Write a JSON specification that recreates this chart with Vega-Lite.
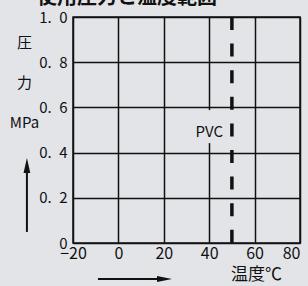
{
  "$schema": "https://vega.github.io/schema/vega-lite/v6.json",
  "width": 227,
  "height": 226,
  "autosize": {"type": "none"},
  "padding": {"left": 73, "top": 17, "right": 8, "bottom": 43},
  "background": "#e3e4e8",
  "config": {
    "font": "Noto Sans CJK JP, sans-serif",
    "view": {"stroke": "#111111", "strokeWidth": 1.5}
  },
  "data": {"values": [{"material": "PVC", "maxTemp": 50, "pMin": 0, "pMax": 1.0}]},
  "layer": [
    {
      "mark": {"type": "rule", "color": "#111111", "strokeWidth": 3.5, "strokeDash": [13, 13.6], "strokeCap": "butt"},
      "encoding": {
        "x": {
          "field": "maxTemp", "type": "quantitative",
          "scale": {"domain": [-20, 80], "nice": false, "zero": false},
          "axis": {
            "values": [-20, 0, 20, 40, 60, 80],
            "grid": true, "gridColor": "#111111", "gridWidth": 1.5, "gridOpacity": 1,
            "domain": false, "ticks": false,
            "labelFontSize": 16, "labelPadding": 2, "labelColor": "#111111",
            "labelAlign": {"condition": {"test": "datum.value == 80", "value": "right"}, "value": "center"},
            "title": "温度℃", "titleX": 183, "titleY": 31, "titleAlign": "center", "titleBaseline": "middle",
            "titleFontSize": 17, "titleFontWeight": "normal", "titleColor": "#111111"
          }
        },
        "y": {
          "field": "pMax", "type": "quantitative",
          "scale": {"domain": [0, 1], "nice": false},
          "axis": {
            "values": [0, 0.2, 0.4, 0.6, 0.8, 1.0],
            "labelExpr": "datum.value == 0 ? '0' : replace(format(datum.value, '.1f'), '.', '.\u2002')",
            "grid": true, "gridColor": "#111111", "gridWidth": 1.5, "gridOpacity": 1,
            "domain": false, "ticks": false,
            "labelFontSize": 15, "labelPadding": 6, "labelColor": "#111111",
            "title": ["圧", "力", "MPa"], "titleAngle": 0, "titleX": -49, "titleY": 25,
            "titleAlign": "center", "titleBaseline": "middle", "titleLineHeight": 40,
            "titleFontSize": 15, "titleFontWeight": "normal", "titleColor": "#111111"
          }
        },
        "y2": {"field": "pMin"}
      }
    },
    {
      "mark": {"type": "rect", "color": "#e3e4e8"},
      "encoding": {
        "x": {"datum": 38.5, "scale": {"domain": [-20, 80], "nice": false, "zero": false}},
        "x2": {"datum": 41.5},
        "y": {"datum": 0.442, "scale": {"domain": [0, 1], "nice": false}},
        "y2": {"datum": 0.588}
      }
    },
    {
      "mark": {"type": "text", "fontSize": 15, "color": "#111111", "align": "center", "baseline": "middle"},
      "encoding": {
        "x": {"datum": 40, "scale": {"domain": [-20, 80], "nice": false, "zero": false}},
        "y": {"datum": 0.49, "scale": {"domain": [0, 1], "nice": false}},
        "text": {"field": "material"}
      }
    },
    {
      "mark": {"type": "text", "fontSize": 20, "fontWeight": "bold", "color": "#111111", "align": "left", "baseline": "alphabetic"},
      "encoding": {
        "x": {"datum": -35.9, "scale": {"domain": [-20, 80], "nice": false, "zero": false}},
        "y": {"datum": 1.059, "scale": {"domain": [0, 1], "nice": false}},
        "text": {"datum": "使用圧力と温度範囲"}
      }
    },
    {
      "mark": {"type": "rule", "color": "#111111", "strokeWidth": 2},
      "encoding": {
        "x": {"datum": -40.3, "scale": {"domain": [-20, 80], "nice": false, "zero": false}},
        "y": {"datum": 0.049, "scale": {"domain": [0, 1], "nice": false}},
        "y2": {"datum": 0.32}
      }
    },
    {
      "mark": {"type": "point", "filled": true, "opacity": 1, "color": "#111111", "size": 225, "shape": "M0,-1L0.45,1L-0.45,1Z"},
      "encoding": {
        "x": {"datum": -40.3, "scale": {"domain": [-20, 80], "nice": false, "zero": false}},
        "y": {"datum": 0.343, "scale": {"domain": [0, 1], "nice": false}}
      }
    },
    {
      "mark": {"type": "rule", "color": "#111111", "strokeWidth": 2},
      "encoding": {
        "x": {"datum": -9, "scale": {"domain": [-20, 80], "nice": false, "zero": false}},
        "x2": {"datum": 18},
        "y": {"datum": -0.159, "scale": {"domain": [0, 1], "nice": false}}
      }
    },
    {
      "mark": {"type": "point", "filled": true, "opacity": 1, "color": "#111111", "size": 225, "shape": "M1,0L-1,-0.4L-1,0.4Z"},
      "encoding": {
        "x": {"datum": 20.3, "scale": {"domain": [-20, 80], "nice": false, "zero": false}},
        "y": {"datum": -0.159, "scale": {"domain": [0, 1], "nice": false}}
      }
    }
  ]
}
